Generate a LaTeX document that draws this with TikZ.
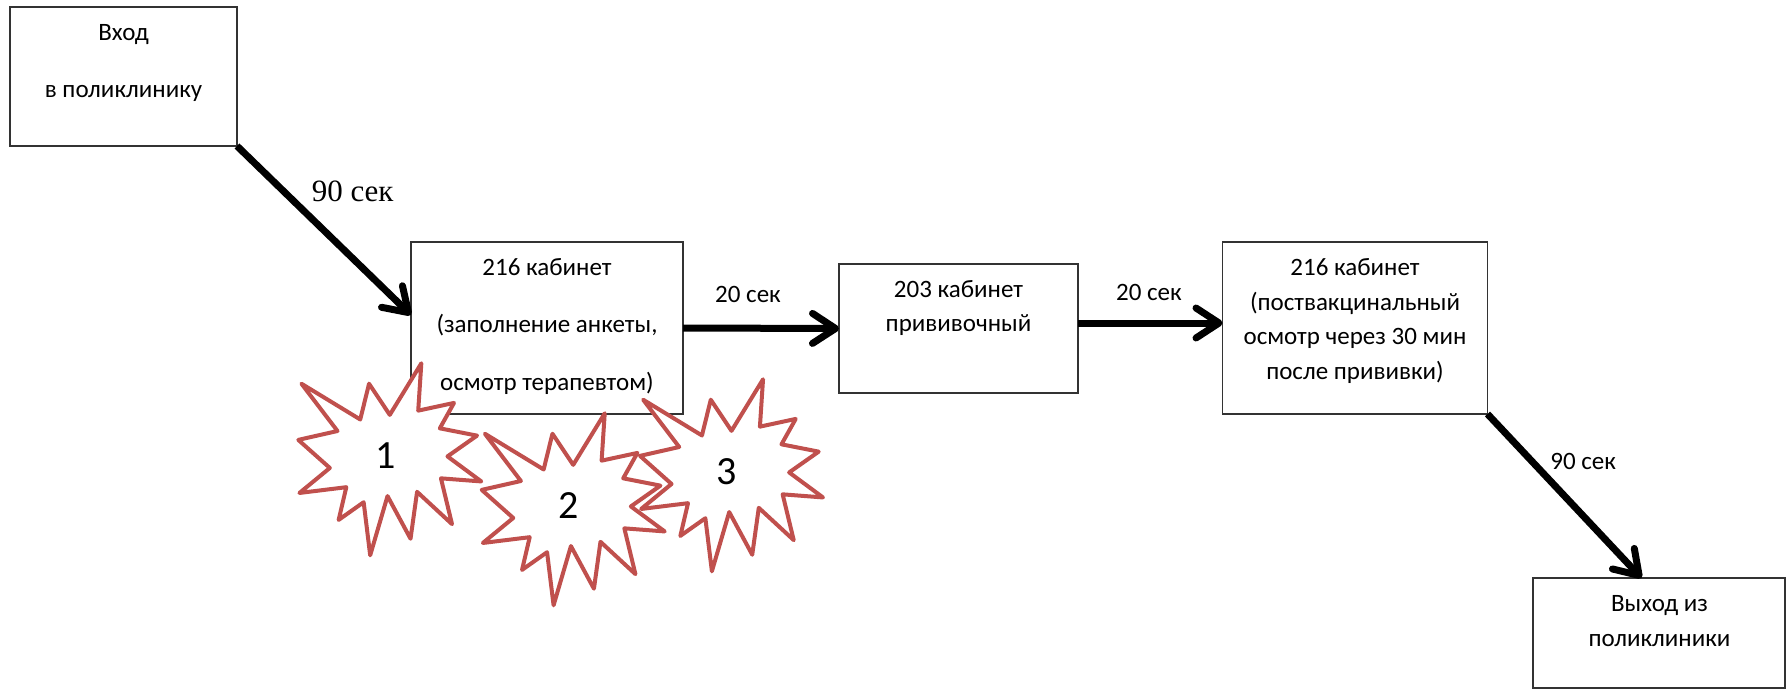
\documentclass[tikz,border=0pt]{standalone}
\usepackage{fontspec}
\setmainfont{Carlito}
\newfontfamily\timesfont{Liberation Serif}
\usetikzlibrary{arrows.meta}
\definecolor{burstred}{RGB}{192,80,77}

\begin{document}
\begin{tikzpicture}[x=1pt,y=-1pt,
		box/.style={draw=black!80,line width=1.2pt,fill=white,inner sep=0pt,outer sep=0pt},
		txt/.style={align=center,inner sep=0pt,font=\fontsize{25}{57.5}\selectfont},
		txtsm/.style={align=center,inner sep=0pt,font=\fontsize{25}{34.7}\selectfont},
		lbl/.style={midway,inner sep=0pt,font=\fontsize{25}{30}\selectfont},
		flow/.style={line width=7pt,-{Straight Barb[length=23pt,width=30pt,round]}},
		burst/.style={draw=burstred,fill=white,line width=4pt,line join=round},
		num/.style={inner sep=0pt,font=\fontsize{40}{48}\selectfont}]
	\useasboundingbox (0,0) rectangle (1789,690);
	% boxes
	\node[box,minimum width=227pt,minimum height=139pt](v1) at (123.5,76.5){};
	\node[box,minimum width=272pt,minimum height=172pt](v2) at (547,328){};
	\node[box,minimum width=239pt,minimum height=129pt](v3) at (958.5,328.5){};
	\node[box,minimum width=265pt,minimum height=172pt](v4) at (1355,328){};
	\node[box,minimum width=252pt,minimum height=110pt](v5) at (1659,633){};
	\node[txt](t1) at (123.5,63){Вход\\в поликлинику};
	\node[txt](t2) at (547,326.5){216 кабинет\\(заполнение анкеты,\\осмотр терапевтом)};
	\node[txtsm](t3) at (958.5,308){203 кабинет\\прививочный};
	\node[txtsm](t4) at (1355,321){216 кабинет\\(поствакцинальный\\осмотр через 30 мин\\после прививки)};
	\node[txtsm](t5) at (1659.5,621){Выход из\\поликлиники};
	% bursts
	\foreach \x/\y/\n in {298.3/363.3/1,481.7/413.3/2,640/379.3/3}{
		\begin{scope}[shift={(\x,\y)},x=0.8472pt,y=-0.8889pt]
			\draw[burst] (108,58) -- (145.22,0) -- (141.55,53.25) -- (183.8,44.57) -- (167.02,73.15)
				-- (210.97,81.37) -- (176.07,104.75) -- (216,132.9) -- (168.37,129.42) -- (181.45,180.95)
				-- (140.2,144.57) -- (132.47,197.37) -- (105.32,149.35) -- (84.85,216) -- (77.15,156.27)
				-- (47.62,176.17) -- (56.67,139.37) -- (1.35,145.87) -- (37.22,117.75) -- (0,86.15)
				-- (46.27,76.17) -- (3.7,22.95) -- (73.12,63.2) -- (83.52,22.95) -- cycle;
		\end{scope}
		\node[num](s\n) at (\x+87,\y+92){\n};
	}
	% arrows
	\path[flow]
		(v1.south east) edge node[lbl,xshift=28.7pt,yshift=38.8pt,font=\timesfont\fontsize{31}{36}\selectfont](l1){90 сек} ([yshift=13pt]v2.west)
		(v2.east) edge node[lbl,xshift=-13pt,yshift=34pt](l2){20 сек} (v3.west)
		([yshift=5.5pt]v3.east) edge node[lbl,xshift=-1.3pt,yshift=31pt](l3){20 сек} ([yshift=5pt]v4.west)
		(v4.south east) edge node[lbl,xshift=18.7pt,yshift=34.3pt](l4){90 сек} ([xshift=-17.5pt]v5.north);
\end{tikzpicture}
\end{document}
